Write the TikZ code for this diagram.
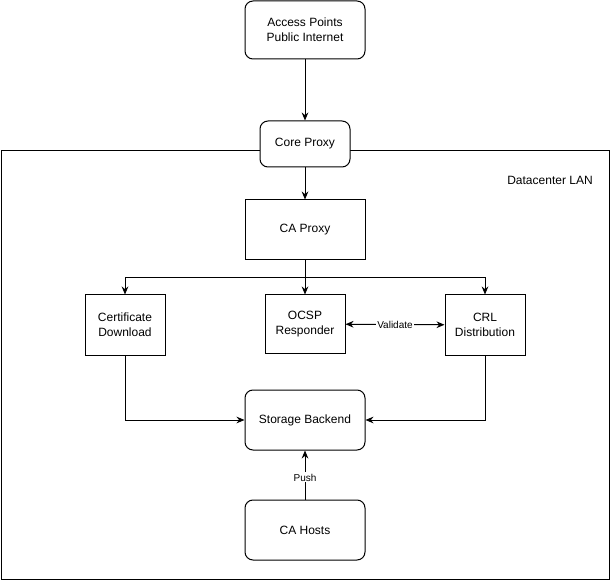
\documentclass[tikz,border=0pt]{standalone}
\usepackage{fontspec}
\setmainfont{Liberation Sans}
\usetikzlibrary{arrows.meta}
\begin{document}
\begin{tikzpicture}[x=0.75pt,y=-0.75pt,line width=0.75pt,
  box/.style={draw,fill=white,align=center,font=\fontsize{9}{11}\selectfont,inner sep=0pt},
  rbox/.style={box,rounded corners=6pt},
  arr/.style={-{Stealth[length=6pt,width=5pt]},line width=0.75pt},
  lbl/.style={fill=white,font=\fontsize{7.5}{9}\selectfont,inner sep=1pt}]
\useasboundingbox (0,0) rectangle (611,581);
\node[draw,minimum width=608*0.75pt,minimum height=429*0.75pt,anchor=north west,inner sep=0pt] (lan) at (0.5,150) {};
\node[font=\fontsize{9}{11}\selectfont] (lanl) at (550,180) {Datacenter LAN};
\node[rbox,minimum width=120*0.75pt,minimum height=58*0.75pt] (ap) at (305,30) {Access Points\\Public Internet};
\node[rbox,minimum width=90*0.75pt,minimum height=46*0.75pt] (core) at (305,144) {Core Proxy};
\node[box,minimum width=120*0.75pt,minimum height=60*0.75pt] (cap) at (305,230) {CA Proxy};
\node[box,minimum width=80*0.75pt,minimum height=60*0.75pt] (cert) at (125,325) {Certificate\\Download};
\node[box,minimum width=80*0.75pt,minimum height=58*0.75pt] (ocsp) at (305,324) {OCSP\\Responder};
\node[box,minimum width=80*0.75pt,minimum height=60*0.75pt] (crl) at (485,325) {CRL\\Distribution};
\node[rbox,minimum width=120*0.75pt,minimum height=60*0.75pt] (st) at (305,420) {Storage Backend};
\node[rbox,minimum width=120*0.75pt,minimum height=60*0.75pt] (ca) at (305,530) {CA Hosts};
\draw[arr] (ap) -- (core);
\draw[arr] (core) -- (cap);
\coordinate (j) at (305,278);
\draw[arr] (cap.south) |- (j) -| (cert.north);
\draw[arr] (cap.south) -- (ocsp.north);
\draw[arr] (j) -| (crl.north);
\draw[arr,{Stealth[length=6pt,width=5pt]}-{Stealth[length=6pt,width=5pt]}] (ocsp) -- node[lbl]{Validate} (crl);
\draw[arr] (cert.south) |- (st.west);
\draw[arr] (crl.south) |- (st.east);
\draw[arr] (ca) -- node[lbl,pos=0.45]{Push} (st);
\end{tikzpicture}
\end{document}
